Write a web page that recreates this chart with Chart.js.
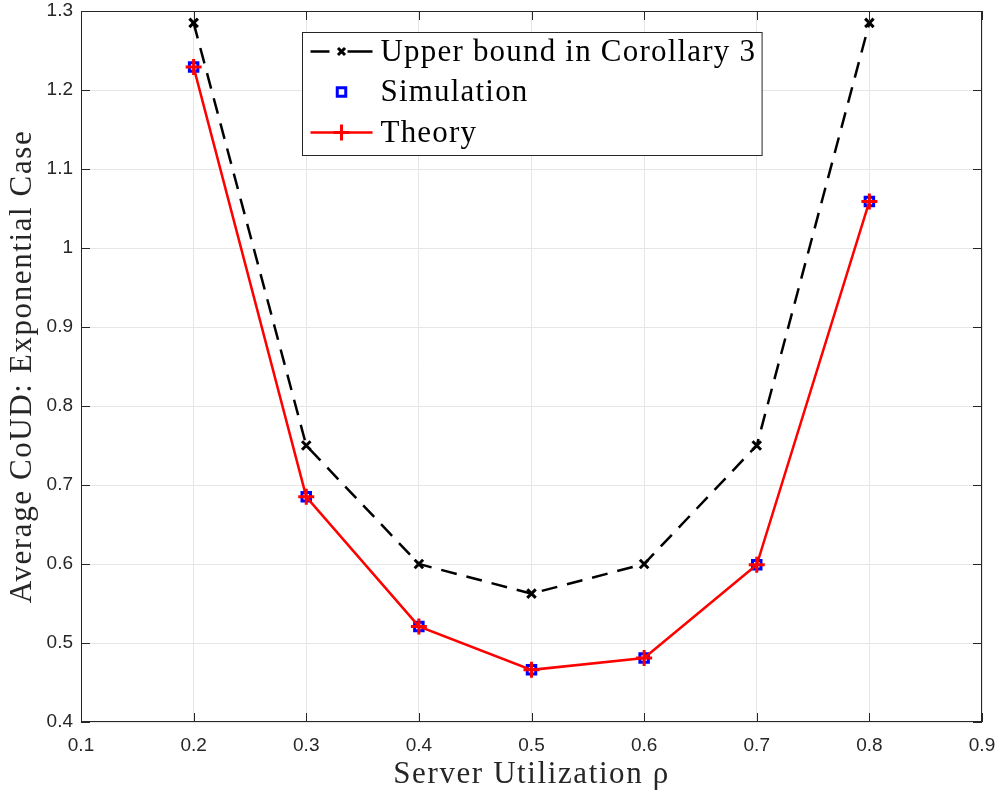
<!DOCTYPE html>
<html>
<head>
<meta charset="utf-8">
<script src="https://cdn.jsdelivr.net/npm/chart.js@4/dist/chart.umd.min.js"></script>
<style>
  html, body { margin: 0; padding: 0; background: #fff; }
  #wrap { width: 1003px; height: 796px; }
</style>
</head>
<body>
<div id="wrap"><canvas id="chart" width="1003" height="796"></canvas></div>
<script>
// Data
var rho = [0.2, 0.3, 0.4, 0.5, 0.6, 0.7, 0.8];
var upperBound = [1.285, 0.75, 0.6, 0.5625, 0.6, 0.75, 1.285];
var simulation = [1.229, 0.685, 0.521, 0.466, 0.481, 0.599, 1.059];
var theory = [1.229, 0.685, 0.521, 0.466, 0.481, 0.599, 1.059];
var xTicks = [0.1, 0.2, 0.3, 0.4, 0.5, 0.6, 0.7, 0.8, 0.9];
var yTicks = [0.4, 0.5, 0.6, 0.7, 0.8, 0.9, 1.0, 1.1, 1.2, 1.3];
var xTitle = 'Server Utilization ρ';
var yTitle = 'Average CoUD: Exponential Case';

function pts(ys) {
    return rho.map(function (x, i) { return { x: x, y: ys[i] }; });
}

function fmt(v) {
    return String(+(+v).toFixed(1));
}

var axisColor = '#262626';
var serif = '"Liberation Serif", "DejaVu Serif", serif';
var sans = '"Liberation Sans", Arial, sans-serif';

// Box around the axes, inward tick marks and axis titles (MATLAB style)
var boxPlugin = {
    id: 'box',
    afterDatasetsDraw: function (chart) {
        var ctx = chart.ctx, a = chart.chartArea;
        var xs = chart.scales.x, ys = chart.scales.y;
        var len = 9;
        ctx.save();
        ctx.strokeStyle = axisColor;
        ctx.lineWidth = 1;
        ctx.strokeRect(a.left + 0.5, a.top + 0.5, a.right - a.left - 1, a.bottom - a.top - 1);
        ctx.beginPath();
        xTicks.forEach(function (t) {
            var px = Math.round(xs.getPixelForValue(t)) + 0.5;
            ctx.moveTo(px, a.bottom); ctx.lineTo(px, a.bottom - len);
            ctx.moveTo(px, a.top); ctx.lineTo(px, a.top + len);
        });
        yTicks.forEach(function (t) {
            var py = Math.round(ys.getPixelForValue(t)) + 0.5;
            ctx.moveTo(a.left, py); ctx.lineTo(a.left + len, py);
            ctx.moveTo(a.right, py); ctx.lineTo(a.right - len, py);
        });
        ctx.stroke();

        // axis titles
        ctx.fillStyle = axisColor;
        ctx.font = '31px ' + serif;
        ctx.letterSpacing = '1.6px';
        ctx.textAlign = 'center';
        ctx.textBaseline = 'middle';
        ctx.fillText(xTitle, (a.left + a.right) / 2, 775);
        ctx.translate(23, (a.top + a.bottom) / 2);
        ctx.rotate(-Math.PI / 2);
        ctx.fillText(yTitle, 0, 0);
        ctx.restore();
    }
};

// Legend drawn inside the plot, top centre
var legendPlugin = {
    id: 'innerLegend',
    afterDraw: function (chart) {
        var ctx = chart.ctx, a = chart.chartArea;
        var sets = chart.data.datasets;
        ctx.save();
        ctx.font = '31px ' + serif;
        ctx.letterSpacing = '1.2px';
        var tw = 0;
        sets.forEach(function (d) { tw = Math.max(tw, ctx.measureText(d.label).width); });
        var sampleW = 62;
        var w = 8 + sampleW + 8 + tw + 6;
        var h = 123;
        var cx = (a.left + a.right) / 2;
        var x0 = Math.round(cx - w / 2) + 0.5;
        var y0 = a.top + 21.5;
        ctx.fillStyle = '#fff';
        ctx.fillRect(x0, y0, w, h);
        ctx.strokeStyle = axisColor;
        ctx.lineWidth = 1;
        ctx.strokeRect(x0, y0, w, h);
        sets.forEach(function (d, i) {
            var yc = y0 + 19 + i * 40.5;
            var lx0 = x0 + 8, lx1 = x0 + 8 + sampleW, mx = (lx0 + lx1) / 2;
            if (d.showLine !== false) {
                ctx.beginPath();
                ctx.strokeStyle = d.borderColor;
                ctx.lineWidth = d.borderWidth;
                if (d.borderDash) {
                    ctx.moveTo(lx0, yc); ctx.lineTo(mx - 12, yc);
                    ctx.moveTo(mx + 6, yc); ctx.lineTo(lx1, yc);
                } else {
                    ctx.moveTo(lx0, yc); ctx.lineTo(lx1, yc);
                }
                ctx.stroke();
            }
            ctx.strokeStyle = d.pointBorderColor || d.borderColor;
            ctx.lineWidth = d.pointBorderWidth || d.borderWidth;
            ctx.fillStyle = d.pointBackgroundColor || 'rgba(0,0,0,0)';
            Chart.helpers.drawPoint(ctx, {
                pointStyle: d.pointStyle,
                radius: d.borderDash ? d.pointRadius - 1 : d.pointRadius,
                borderWidth: d.pointBorderWidth || d.borderWidth
            }, mx, yc);
            ctx.fillStyle = '#000';
            ctx.textBaseline = 'middle';
            ctx.textAlign = 'left';
            ctx.fillText(d.label, x0 + 8 + sampleW + 8, yc + 1);
        });
        ctx.restore();
    }
};

var ctx = document.getElementById('chart').getContext('2d');
var chart = new Chart(ctx, {
    type: 'line',
    data: {
        datasets: [{
            label: 'Upper bound in Corollary 3',
            data: pts(upperBound),
            borderColor: '#000',
            borderWidth: 2.5,
            borderDash: [16, 10],
            pointStyle: 'crossRot',
            pointRadius: 6,
            pointBorderWidth: 3,
            pointBorderColor: '#000',
            pointBackgroundColor: '#000',
            order: 2
        }, {
            label: 'Simulation',
            data: pts(simulation),
            showLine: false,
            borderColor: '#0000ff',
            borderWidth: 3,
            pointStyle: 'rect',
            pointRadius: 6,
            pointBorderWidth: 3,
            pointBorderColor: '#0000ff',
            pointBackgroundColor: 'rgba(0,0,0,0)',
            order: 1
        }, {
            label: 'Theory',
            data: pts(theory),
            borderColor: '#ff0000',
            borderWidth: 2.5,
            pointStyle: 'cross',
            pointRadius: 8,
            pointBorderWidth: 3,
            pointBorderColor: '#ff0000',
            pointBackgroundColor: '#ff0000',
            order: 0
        }]
    },
    options: {
        responsive: false,
        animation: false,
        layout: { padding: { top: 9, right: 21, left: 0, bottom: 0 } },
        plugins: {
            legend: { display: false },
            tooltip: { enabled: false }
        },
        elements: { line: { tension: 0 } },
        scales: {
            x: {
                type: 'linear',
                min: 0.1,
                max: 0.9,
                afterBuildTicks: function (s) { s.ticks = xTicks.map(function (v) { return { value: v }; }); },
                afterFit: function (s) {
                    s.height = 74;
                    s.paddingLeft = 0; s.paddingRight = 0;
                },
                ticks: {
                    callback: fmt,
                    color: axisColor,
                    padding: 12,
                    maxRotation: 0,
                    font: { family: sans, size: 19 }
                },
                grid: { color: '#e6e6e6', drawTicks: false },
                border: { display: false }
            },
            y: {
                type: 'linear',
                min: 0.4,
                max: 1.3,
                afterBuildTicks: function (s) { s.ticks = yTicks.map(function (v) { return { value: v }; }); },
                afterFit: function (s) {
                    s.width = 81;
                    s.paddingTop = 0; s.paddingBottom = 0;
                },
                ticks: {
                    callback: fmt,
                    color: axisColor,
                    padding: 8,
                    font: { family: sans, size: 19 }
                },
                grid: { color: '#e6e6e6', drawTicks: false },
                border: { display: false }
            }
        }
    },
    plugins: [boxPlugin, legendPlugin]
});
</script>
</body>
</html>
